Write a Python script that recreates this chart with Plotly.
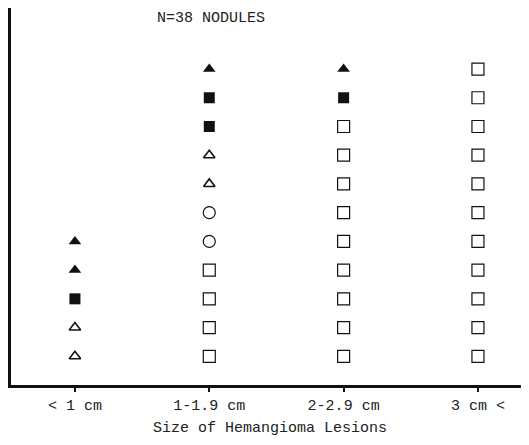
import plotly.graph_objects as go

categories = ["< 1 cm", "1-1.9 cm", "2-2.9 cm", "3 cm <"]
# counts per category, stacked bottom-to-top in this order
open_square = [0, 4, 9, 11]
open_circle = [0, 2, 0, 0]
open_triangle = [2, 2, 0, 0]
filled_square = [1, 2, 1, 0]
filled_triangle = [2, 1, 1, 0]

series = [
    ("open square", open_square, "square-open", 12, 1.2),
    ("open circle", open_circle, "circle-open", 12, 1.2),
    ("open triangle", open_triangle, "triangle-up-open", 10, 1.6),
    ("filled square", filled_square, "square", 11, 0),
    ("filled triangle", filled_triangle, "triangle-up", 11, 0),
]

fig = go.Figure()
base = [0] * len(categories)
for name, counts, symbol, size, lw in series:
    xs, ys = [], []
    for i, c in enumerate(counts):
        for k in range(c):
            xs.append(i)
            ys.append(base[i] + k + 1)
        base[i] += c
    fig.add_trace(go.Scatter(
        x=xs, y=ys, mode="markers", name=name,
        marker=dict(symbol=symbol, size=size, color="#111",
                    line=dict(color="#111", width=lw)),
        showlegend=False, hoverinfo="skip",
    ))

font = "Liberation Mono, DejaVu Sans Mono, monospace"
fig.update_layout(
    width=521, height=437,
    margin=dict(l=3, r=0, t=0, b=60),
    paper_bgcolor="white", plot_bgcolor="white",
    font=dict(family=font, size=15, color="#222"),
    showlegend=False,
    xaxis=dict(
        range=[-0.476, 3.38], tickmode="array",
        tickvals=list(range(len(categories))), ticktext=categories,
        showgrid=False, zeroline=False,
        showline=True, linecolor="#111", linewidth=2.5,
        ticks="outside", ticklen=4, tickwidth=1.5, tickcolor="#111",
        tickfont=dict(family=font, size=15, color="#222"),
        title=dict(text="Size of Hemangioma Lesions", standoff=8,
                   font=dict(family=font, size=15, color="#222")),
    ),
    yaxis=dict(
        range=[0, 13.125], showgrid=False, zeroline=False,
        showline=True, linecolor="#111", linewidth=2.5,
        ticks="outside", ticklen=2, tickwidth=1, tickcolor="#111",
        tick0=0, dtick=0.58, showticklabels=False,
    ),
    annotations=[dict(
        text="N=38 NODULES", xref="paper", yref="paper",
        x=(203 - 3) / 518, y=1 - 11 / 377,
        xanchor="center", yanchor="middle", showarrow=False,
        font=dict(family=font, size=15, color="#222"),
    )],
)

fig.write_html("out.html")
